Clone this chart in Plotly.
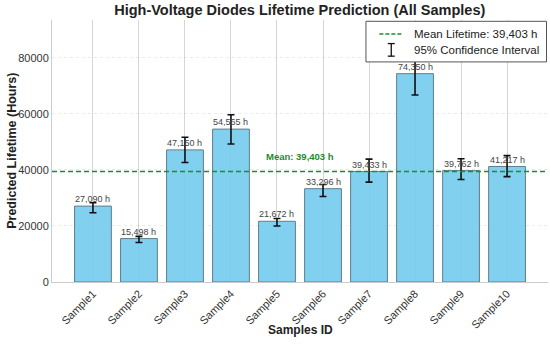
import plotly.graph_objects as go

samples = ["Sample1", "Sample2", "Sample3", "Sample4", "Sample5",
           "Sample6", "Sample7", "Sample8", "Sample9", "Sample10"]
lifetime = [27090, 15498, 47150, 54565, 21672, 33296, 39433, 74350, 39762, 41217]
err_upper = [1200, 800, 4500, 5100, 1000, 1500, 4400, 7000, 4200, 3900]
err_lower = [2400, 1400, 4500, 5300, 1700, 2800, 3800, 7600, 3200, 3600]
mean_life = 39403
y_ticks = [0, 20000, 40000, 60000, 80000]

FONT = "Liberation Sans, Arial, sans-serif"
GREEN = "#1e8c2c"

x_idx = list(range(len(samples)))

fig = go.Figure()
fig.add_trace(go.Bar(
    x=x_idx, y=lifetime, width=0.8,
    marker=dict(color="rgba(118,204,238,0.92)",
                line=dict(color="#5f7f8c", width=1)),
    error_y=dict(type="data", symmetric=False, array=err_upper,
                 arrayminus=err_lower, color="#111111", thickness=1.6, width=3.5),
    showlegend=False, hoverinfo="skip",
))

# value labels
for i, v in zip(x_idx, lifetime):
    fig.add_annotation(x=i, y=v, text=f"{v:,} h", showarrow=False,
                       yanchor="bottom", yshift=0,
                       font=dict(family=FONT, size=9, color="#444444"))

# mean line
fig.add_shape(type="line", xref="paper", x0=0, x1=1, yref="y",
              y0=mean_life, y1=mean_life,
              line=dict(color=GREEN, width=1.5, dash="5px,3px"))
fig.add_annotation(x=4.5, y=mean_life, text=f"<b>Mean: {mean_life:,} h</b>",
                   showarrow=False, yanchor="bottom", yshift=8,
                   font=dict(family=FONT, size=9.5, color=GREEN))

# custom legend
fig.add_shape(type="rect", xref="paper", yref="paper", x0=0.633, x1=0.997,
              y0=0.84, y1=0.995, line=dict(color="#555555", width=1),
              fillcolor="white", layer="above")
fig.add_shape(type="line", xref="paper", yref="paper", x0=0.66, x1=0.708,
              y0=0.947, y1=0.947, line=dict(color=GREEN, width=1.5, dash="4px,2px"),
              layer="above")
for (a, b, c, d) in [(0.684, 0.684, 0.862, 0.91), (0.677, 0.691, 0.862, 0.862),
                     (0.677, 0.691, 0.91, 0.91)]:
    fig.add_shape(type="line", xref="paper", yref="paper", x0=a, x1=b,
                  y0=c, y1=d, line=dict(color="#111111", width=1.3), layer="above")
fig.add_annotation(xref="paper", yref="paper", x=0.726, y=0.947, xanchor="left",
                   yanchor="middle",
                   text=f"Mean Lifetime: {mean_life:,} h", showarrow=False,
                   font=dict(family=FONT, size=11.5, color="#222222"))
fig.add_annotation(xref="paper", yref="paper", x=0.726, y=0.886, xanchor="left",
                   yanchor="middle",
                   text="95% Confidence Interval", showarrow=False,
                   font=dict(family=FONT, size=11.5, color="#222222"))

# axis titles
fig.add_annotation(xref="paper", yref="paper", x=0.5, y=-0.183,
                   text="<b>Samples ID</b>", showarrow=False, yanchor="middle",
                   font=dict(family=FONT, size=12, color="#222222"))
fig.add_annotation(xref="paper", yref="paper", x=-0.081, y=0.5, textangle=-90,
                   text="<b>Predicted Lifetime (Hours)</b>", showarrow=False,
                   xanchor="center", yanchor="middle",
                   font=dict(family=FONT, size=12.5, color="#222222"))

fig.update_layout(
    width=550, height=344,
    margin=dict(l=52, r=2, t=20, b=62, autoexpand=False),
    paper_bgcolor="white", plot_bgcolor="white",
    title=dict(text="<b>High-Voltage Diodes Lifetime Prediction (All Samples)</b>",
               x=0.545, xanchor="center", yref="container", y=1 - 10 / 344,
               yanchor="middle",
               font=dict(family=FONT, size=14.5, color="#222222")),
    font=dict(family=FONT, color="#333333"),
    bargap=0.2,
)
fig.update_xaxes(
    tickmode="array", tickvals=x_idx, ticktext=samples, tickangle=-45,
    range=[-0.89, 9.89], showgrid=True, gridcolor="#d6d6d6", gridwidth=1,
    showline=True, linecolor="#cccccc", linewidth=1, ticks="", automargin=False,
    tickfont=dict(family=FONT, size=11, color="#333333"),
    zeroline=False,
)
fig.update_yaxes(
    range=[0, 93500], tickmode="array", tickvals=y_ticks,
    ticktext=[str(t) for t in y_ticks], automargin=False,
    showgrid=True, gridcolor="rgba(0,0,0,0.08)", griddash="dot", gridwidth=1,
    showline=True, linecolor="#cccccc", linewidth=1, ticks="",
    tickfont=dict(family=FONT, size=11, color="#333333"),
    zeroline=False,
)

fig.write_html("out.html", config={"displayModeBar": False},
               post_script="document.body.style.margin='0';document.body.style.overflow='hidden';")
